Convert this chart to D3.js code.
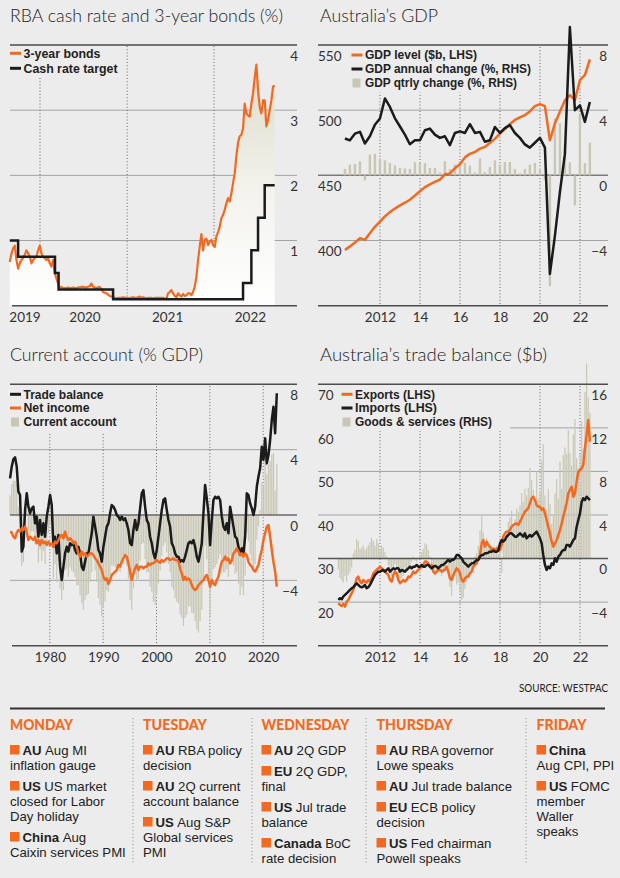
<!DOCTYPE html>
<html><head><meta charset="utf-8">
<script src="https://cdn.jsdelivr.net/npm/d3@7/dist/d3.min.js"></script>
<style>body{margin:0;background:#ececec}svg{display:block}</style>
</head><body>
<svg id="c" width="620" height="878"></svg>
<script>
// ---------------- DATA ----------------
// Panel 1: RBA cash rate and 3-year bonds (weekly samples)
const bondStart = "2019-08-27", bondEnd = "2022-09-13";
const bond3y = [0.67,0.80,0.88,0.92,0.70,0.57,0.65,0.70,0.73,0.78,
0.85,0.80,0.75,0.65,0.70,0.73,0.75,0.85,0.92,0.80,
0.75,0.73,0.70,0.73,0.65,0.60,0.70,0.50,0.42,0.34,
0.27,0.29,0.27,0.27,0.27,0.28,0.27,0.27,0.28,0.27,
0.27,0.28,0.28,0.29,0.29,0.28,0.28,0.29,0.30,0.34,
0.29,0.28,0.27,0.28,0.29,0.25,0.21,0.20,0.19,0.17,
0.15,0.14,0.13,0.12,0.11,0.12,0.12,0.12,0.13,0.12,
0.12,0.11,0.12,0.12,0.13,0.12,0.12,0.13,0.14,0.12,
0.13,0.12,0.11,0.12,0.12,0.12,0.11,0.12,0.12,0.12,
0.12,0.12,0.12,0.11,0.10,0.19,0.21,0.24,0.19,0.15,
0.13,0.19,0.16,0.14,0.18,0.15,0.16,0.19,0.19,0.16,
0.21,0.29,0.44,0.70,0.90,1.10,0.85,1.01,1.03,0.93,
0.98,1.01,0.93,0.90,1.06,1.13,1.21,1.34,1.39,1.47,
1.57,1.65,1.60,1.72,1.88,2.03,2.30,2.50,2.60,2.62,
2.72,3.10,2.95,2.92,2.90,3.10,3.26,3.50,3.70,3.31,
3.05,2.95,3.15,3.15,2.75,2.85,3.00,3.15,3.36,3.38];
const cashDates = ["2019-08-27","2019-10-01","2020-03-04","2020-03-19","2020-11-03","2022-05-03","2022-06-07","2022-07-05","2022-08-02","2022-09-13"];
const cashRate  = [1.00,0.75,0.50,0.25,0.10,0.35,0.85,1.35,1.85,1.85];
const p1Ticks = [1,2,3,4];
const p1YearLabels = ["2019","2020","2021","2022"];
const p1YearLabelDates = ["2019-10-28","2020-07-06","2021-06-18","2022-06-01"];
const p1GridYears = ["2020-01-01","2021-01-01","2022-01-01"];

// Panel 2: Australia's GDP (quarterly, Q1 2010 - Q2 2022)
const gdpFirstQuarter = "2010-03-31";
const gdpLevel = [392.8,395.5,398.5,401.8,400.5,405.5,410.5,414.5,418.5,421.8,
424.5,427,429,431.3,434.5,437.8,441.0,443,445,446.7,
450.8,451.3,455.5,458.5,463.8,466.5,467.9,470.5,471.8,474.8,
478,482.1,485.5,489.2,492.5,494.5,496.2,499,503.1,504.6,
503.1,476.9,489.8,499,507.5,511.5,507.7,523.1,526.9,539.0];
const gdpAnnual = [2.26,2.15,2.56,2.67,1.95,2.4,3.1,3.49,4.72,4.2,
3.5,3.0,2.5,1.91,2.15,2.15,2.77,2.87,2.5,2.3,
2.4,1.85,2.6,2.7,2.6,3.14,2.6,2.67,2.06,2.15,
2.97,2.6,2.9,3.08,2.6,2.3,1.9,1.7,2.0,2.3,
1.7,-6.05,-3.7,-1.0,1.3,9.1,4.0,4.3,3.28,4.5];
const gdpQtr = [0.39,0.66,0.70,0.86,-0.31,1.27,1.33,1.03,0.92,0.76,
0.6,0.45,0.43,0.39,0.8,0.76,0.76,0.45,0.45,0.18,
0.86,0.39,0.66,0.86,0.76,0.6,0.18,1.03,0.2,0.51,
0.92,0.66,0.82,0.82,0.39,0.14,0.39,0.66,0.76,0.35,
-0.3,-6.8,3.5,3.2,1.9,0.8,-1.85,3.8,0.76,2.0];
const gdpLhsTicks = [550,500,450,400];
const gdpRhsTicks = [8,4,0,-4];

// Panel 3: Current account (% GDP), evenly spaced samples 1972.55 - 2022.55
const caStartYear = 1972.55, caEndYear = 2022.55;
const tradeBal = [2.24,2.96,3.41,3.53,2.96,1.43,1.22,-2.24,-1.94,0.31,
1.33,0.51,0.10,0.41,0.51,-0.51,-0.10,-1.33,-0.31,-1.22,
-0.51,-1.33,-0.10,0.51,1.22,0.61,-1.94,-1.33,-2.35,-1.22,
-3.16,-3.98,-3.16,-2.35,-1.94,-2.24,-1.73,-1.84,-1.73,-2.14,
-2.35,-1.94,-2.35,-3.16,-3.37,-2.86,-2.35,-2.35,-1.73,-1.12,
-0.10,-0.71,-1.33,-2.14,-2.35,-2.86,-1.94,-1.33,-0.71,-0.51,
0.10,0.61,0.51,0.31,0.0,-0.10,-0.31,-0.10,-0.31,-0.20,
-0.51,-0.92,-1.73,-1.84,-0.92,-0.31,-0.92,-0.51,0.41,1.33,
1.53,0.51,-0.31,-0.51,-1.33,-1.73,-2.35,-2.65,-2.14,-1.33,
-0.51,0.31,0.92,1.02,0.31,-0.31,-0.71,-1.73,-1.94,-2.35,
-2.55,-2.55,-2.86,-2.76,-2.86,-2.55,-2.14,-1.73,-1.63,-1.73,
-1.53,-1.94,-2.55,-2.86,-2.35,-1.73,0.10,1.84,1.02,0.10,
-1.84,-0.31,0.92,1.12,1.02,1.12,0.92,-0.10,-0.71,-0.92,
-0.51,-1.12,0.51,-0.10,-0.71,-1.33,-1.43,-1.94,-2.45,-2.04,
-2.35,-1.33,1.33,1.22,0.71,0.41,0.0,0.51,1.73,2.35,
2.86,4.18,3.37,4.69,3.16,3.67,4.59,5.82,6.63,5.0,
7.45];
const netIncome = [-1.02,-1.08,-1.33,-1.43,-1.08,-0.92,-1.02,-0.82,-0.92,-0.71,
-1.02,-1.53,-1.33,-1.43,-1.53,-1.33,-1.73,-1.53,-1.84,-1.53,
-1.73,-1.63,-1.84,-1.63,-1.84,-1.73,-1.94,-1.63,-1.73,-1.53,
-1.33,-1.22,-1.43,-1.02,-1.33,-1.53,-1.43,-1.53,-1.73,-1.63,
-1.94,-2.35,-2.55,-2.24,-2.45,-2.35,-2.55,-2.45,-2.35,-2.35,
-2.45,-2.65,-2.76,-2.96,-3.16,-3.37,-3.78,-3.98,-3.88,-4.22,
-3.98,-3.67,-3.57,-3.47,-3.37,-3.06,-3.16,-2.86,-2.65,-2.45,
-2.55,-2.96,-3.47,-3.98,-3.57,-3.27,-3.06,-3.37,-3.16,-3.16,
-3.27,-3.16,-3.16,-2.96,-3.06,-2.96,-2.96,-2.86,-2.76,-2.86,
-2.92,-2.76,-2.86,-2.76,-2.65,-2.65,-2.76,-2.71,-2.65,-2.76,
-2.76,-2.86,-3.27,-3.57,-3.98,-3.78,-3.98,-3.88,-3.98,-4.29,
-4.49,-4.59,-4.49,-4.29,-4.18,-4.08,-3.98,-3.78,-3.67,-3.98,
-4.39,-3.98,-4.18,-4.29,-3.98,-3.78,-3.27,-2.86,-2.76,-2.55,
-2.76,-2.65,-2.96,-2.76,-2.35,-2.24,-2.04,-2.24,-2.45,-2.35,
-2.55,-2.35,-2.45,-2.86,-3.06,-3.16,-3.37,-3.47,-3.27,-3.06,
-2.55,-2.14,-1.53,-1.12,-0.71,-0.61,-1.33,-2.14,-2.86,-3.47,
-4.39];
const curAcct = [1.2,1.9,2.1,2.1,1.9,0.5,0.2,-3.1,-2.9,-0.4,
0.3,-1.0,-1.2,-1.0,-1.0,-1.8,-1.8,-2.9,-2.1,-2.8,
-2.2,-3.0,-1.9,-1.1,-0.6,-1.1,-3.9,-3.0,-4.1,-2.8,
-4.5,-5.2,-4.6,-3.4,-3.3,-3.8,-3.2,-3.4,-3.5,-3.8,
-4.3,-4.3,-4.9,-5.4,-5.8,-5.2,-4.9,-4.8,-4.1,-3.5,
-2.6,-3.4,-4.1,-5.1,-5.5,-6.2,-5.7,-5.3,-4.6,-4.7,
-3.9,-3.1,-3.1,-3.2,-3.4,-3.2,-3.5,-3.0,-3.0,-2.7,
-3.1,-3.9,-5.2,-5.8,-4.5,-3.6,-4.0,-3.9,-2.8,-1.8,
-1.7,-2.7,-3.5,-3.5,-4.4,-4.7,-5.3,-5.5,-4.9,-4.2,
-3.4,-2.5,-1.9,-1.7,-2.3,-3.0,-3.5,-4.4,-4.6,-5.1,
-5.3,-5.4,-6.1,-6.3,-6.8,-6.3,-6.1,-5.6,-5.6,-6.0,
-6.0,-6.5,-7.0,-7.2,-6.5,-5.8,-3.9,-1.9,-2.7,-3.9,
-6.2,-4.3,-3.3,-3.2,-3.0,-2.7,-2.4,-3.0,-3.5,-3.5,
-3.3,-3.8,-2.5,-2.9,-3.1,-3.6,-3.5,-4.2,-4.9,-4.4,
-4.9,-3.7,-1.1,-1.6,-2.4,-2.8,-3.4,-3.0,-1.5,-0.7,
0.3,2.0,1.8,3.6,2.5,3.1,3.3,3.7,3.8,1.5,
3.1];
const caTicks = [8,4,0,-4];
const caYears = [1980,1990,2000,2010,2020];

// Panel 4: Australia's trade balance ($b), monthly from Dec 2009
const tradeFirstMonth = "2009-12-01";
const exportsB = [19.74,19.36,19.13,19.59,18.98,20.12,20.50,21.27,22.03,22.80,
23.94,25.47,25.86,24.71,24.33,25.09,24.71,24.48,25.09,24.71,
25.47,26.62,27.00,27.39,27.77,28.15,27.77,27.39,27.00,26.62,
26.24,25.09,24.71,26.24,27.00,26.62,25.09,24.33,24.71,25.09,
24.71,25.09,25.86,25.70,26.24,27.00,26.62,27.00,27.39,27.77,
28.15,28.53,29.30,29.30,28.91,28.15,28.53,27.00,26.62,27.00,
27.39,27.39,27.00,27.23,27.39,28.15,27.00,25.47,25.09,26.24,
27.00,27.77,27.39,26.62,25.09,24.71,25.47,25.86,25.86,26.62,
27.00,28.15,28.53,28.91,30.06,30.83,33.50,34.27,32.74,33.88,
33.12,32.74,31.97,32.35,31.97,32.35,31.97,31.97,33.12,35.03,
35.80,36.18,36.18,36.56,37.32,37.71,37.94,38.09,37.71,38.47,
39.24,40.00,40.76,41.15,41.53,42.68,43.82,44.20,43.44,42.29,
41.91,41.91,41.15,41.53,40.38,38.85,37.32,35.80,33.88,32.74,
33.50,34.27,35.41,36.56,38.09,39.62,41.15,42.68,44.97,45.73,
46.50,44.20,44.97,47.65,49.94,50.33,50.71,51.47,55.29,58.35,
61.79,56.82];
const importsB = [20.50,20.89,20.66,21.27,21.65,22.03,22.42,22.80,23.18,23.41,
23.94,24.33,23.94,23.56,23.41,23.56,23.94,23.18,23.41,23.94,
24.71,25.47,26.24,26.62,27.00,27.00,27.23,27.39,27.00,27.39,
27.77,27.00,27.39,27.77,27.54,27.77,27.77,27.00,27.39,27.23,
27.00,27.39,27.77,28.15,27.77,28.15,28.15,28.53,28.15,28.15,
28.53,28.15,28.15,28.53,28.53,28.15,27.77,28.15,28.30,28.15,
27.77,28.15,28.53,28.53,28.91,29.30,29.68,29.30,29.68,29.68,
30.06,30.83,30.83,30.44,30.06,29.30,28.91,28.53,28.15,28.53,
28.91,28.91,29.30,29.68,29.68,30.44,30.83,30.83,31.21,31.21,
31.36,31.59,31.59,31.82,31.59,31.59,31.82,33.50,34.27,33.88,
34.27,35.03,35.41,35.80,35.80,35.41,35.03,35.03,35.41,35.80,
35.41,35.03,35.80,34.65,35.03,35.41,35.03,35.41,35.80,36.18,
35.41,34.65,33.50,30.83,28.53,27.39,28.15,27.77,28.91,28.53,
30.06,29.30,30.44,30.83,31.59,31.97,31.97,33.12,33.12,32.74,
33.50,34.27,34.65,37.32,38.85,40.38,43.06,43.82,43.44,44.20,
43.82,43.44];
const goodsServ = [-1.0,-1.8,-2.0,-2.2,-1.6,-2.1,-1.5,-1.2,-0.8,0.5,
0.8,1.8,1.6,0.9,1.0,1.2,0.8,1.0,1.2,1.5,
1.9,1.6,1.2,1.8,1.4,0.9,1.2,1.0,0.6,0.2,
-0.6,-1.4,-1.6,-0.9,-0.5,-0.9,-1.8,-2.1,-1.8,-1.6,
-1.2,-1.0,-0.7,-0.6,-0.3,0.2,-0.2,-0.3,0.0,0.3,
0.6,0.9,1.4,1.3,0.8,0.2,-0.5,-1.2,-1.6,-1.2,
-0.8,-0.9,-1.6,-1.3,-1.0,-0.5,-1.4,-2.6,-3.4,-2.0,
-1.6,-2.4,-2.2,-3.2,-3.8,-3.6,-2.8,-2.2,-1.8,-1.5,
-1.0,-0.4,0.2,0.5,1.2,2.6,4.0,2.4,1.2,1.9,
1.1,0.9,1.2,1.0,0.7,1.2,0.4,0.8,-1.3,1.5,
1.8,2.6,3.4,3.8,4.4,3.2,3.6,4.6,4.3,4.9,
6.0,5.2,6.4,5.8,6.5,8.3,7.2,6.3,5.0,8.0,
5.5,6.0,9.0,10.5,5.8,4.5,6.4,5.0,3.2,3.9,
6.0,7.3,5.5,8.9,6.4,9.5,10.2,9.6,11.8,9.7,
8.5,11.4,12.8,9.2,8.3,9.6,12.6,10.1,15.3,17.9,
14.8,13.4];
const tradeLhsTicks = [70,60,50,40,30,20];
const tradeRhsTicks = [16,12,8,4,0,-4];
const shortYearTicks = ["2012","14","16","18","20","22"];
const shortYearDates = ["2012-01-01","2014-01-01","2016-01-01","2018-01-01","2020-01-01","2022-01-01"];

// Week-ahead calendar
const days = ["MONDAY","TUESDAY","WEDNESDAY","THURSDAY","FRIDAY"];
const dayItems = [
  [{code:"AU",lines:["Aug MI","inflation gauge"]},
   {code:"US",lines:["US market","closed for Labor","Day holiday"]},
   {code:"China",lines:["Aug","Caixin services PMI"]}],
  [{code:"AU",lines:["RBA policy","decision"]},
   {code:"AU",lines:["2Q current","account balance"]},
   {code:"US",lines:["Aug S&P","Global services","PMI"]}],
  [{code:"AU",lines:["2Q GDP"]},
   {code:"EU",lines:["2Q GDP,","final"]},
   {code:"US",lines:["Jul trade","balance"]},
   {code:"Canada",lines:["BoC","rate decision"]}],
  [{code:"AU",lines:["RBA governor","Lowe speaks"]},
   {code:"AU",lines:["Jul trade balance"]},
   {code:"EU",lines:["ECB policy","decision"]},
   {code:"US",lines:["Fed chairman","Powell speaks"]}],
  [{code:"China",lines:["","Aug CPI, PPI"]},
   {code:"US",lines:["FOMC","member","Waller","speaks"]}]
];

// ---------------- STYLE ----------------
const BG="#ececec", OR="#f26a21", BK="#1b1b1b", BAR="#c9c7b3", GRID="#a3a3a3", DARK="#4d4d4d", TXT="#222";
const FONT="Lato, 'Open Sans', sans-serif";
const TFONT="'Liberation Sans', Arial, sans-serif";
const svg = d3.select("#c");
svg.append("rect").attr("width",620).attr("height",878).attr("fill",BG);
const parse = d3.timeParse("%Y-%m-%d");

function hline(y,x0,x1,color,w){svg.append("line").attr("x1",x0).attr("x2",x1).attr("y1",y).attr("y2",y).attr("stroke",color).attr("stroke-width",w);}
function vdots(x,y0,y1){svg.append("line").attr("x1",x).attr("x2",x).attr("y1",y0).attr("y2",y1).attr("stroke","#666").attr("stroke-width",1).attr("stroke-dasharray","1,2.2");}
function title(x,y,t,len){svg.append("text").attr("x",x).attr("y",y).text(t).attr("font-family",FONT).attr("font-size",18).attr("font-weight",300).attr("fill",TXT).attr("textLength",len).attr("lengthAdjust","spacingAndGlyphs");}
function bgBox(x,y,w,h){svg.append("rect").attr("x",x).attr("y",y).attr("width",w).attr("height",h).attr("fill",BG);}
function legend(x,rows){
  rows.forEach(r=>{
    if(r.type==="line") svg.append("line").attr("x1",x).attr("x2",x+11).attr("y1",r.y).attr("y2",r.y).attr("stroke",r.color).attr("stroke-width",3);
    else svg.append("rect").attr("x",x+1).attr("y",r.y-4.5).attr("width",8).attr("height",9).attr("fill",r.color);
    svg.append("text").attr("x",x+13.5).attr("y",r.y+4.3).text(r.text).attr("font-family",TFONT).attr("font-weight",700).attr("font-size",12).attr("fill",TXT).attr("textLength",r.w).attr("lengthAdjust","spacingAndGlyphs");
  });
}
function yLabels(scale,vals,x,side){
  const ax=(side==="end"?d3.axisLeft(scale):d3.axisRight(scale)).tickValues(vals).tickSize(0).tickPadding(0).tickFormat(d3.format("d"));
  const g=svg.append("g").attr("transform",`translate(${x},0)`).call(ax);
  g.select(".domain").remove(); g.selectAll(".tick line").remove();
  g.attr("font-family",FONT).attr("font-size",13.5);
  g.selectAll("text").attr("y",11).attr("fill","#333");
}
function xLabels(scale,vals,labels,y){
  const ax=d3.axisBottom(scale).tickValues(vals).tickSize(0).tickPadding(0).tickFormat((d,i)=>labels[i]);
  const g=svg.append("g").attr("transform",`translate(0,${y})`).call(ax);
  g.select(".domain").remove(); g.selectAll(".tick line").remove();
  g.attr("font-family",FONT).attr("font-size",13.5);
  g.selectAll("text").attr("fill","#333");
}

// ---------------- PANEL 1 ----------------
{
  const x=d3.scaleTime().domain([parse("2020-01-01"),parse("2022-01-01")]).range([40,214]);
  const y=d3.scaleLinear().domain([0,4]).range([305.7,45]);
  const t0=parse(bondStart).getTime(), t1=parse(bondEnd).getTime();
  const bonds=bond3y.map((v,i)=>({d:new Date(t0+(t1-t0)*i/(bond3y.length-1)),v}));
  const cash=cashRate.map((v,i)=>({d:parse(cashDates[i]),v}));
  title(10,22,"RBA cash rate and 3-year bonds (%)",273);
  [1,2,3].forEach(v=>hline(y(v),10,297,GRID,1));
  p1GridYears.forEach(s=>vdots(x(parse(s)),46,305));
  bgBox(10,46,112,31);
  const defs=svg.append("defs");
  const lg=defs.append("linearGradient").attr("id","bondGrad").attr("gradientUnits","userSpaceOnUse").attr("x1",0).attr("x2",0).attr("y1",y(4)).attr("y2",y(0));
  lg.append("stop").attr("offset",0).attr("stop-color","#d9d7c4");
  lg.append("stop").attr("offset",0.55).attr("stop-color","#f3f2ec");
  lg.append("stop").attr("offset",1).attr("stop-color","#ffffff");
  svg.append("path").datum(bonds).attr("fill","url(#bondGrad)").attr("d",d3.area().x(d=>x(d.d)).y0(y(0)).y1(d=>y(d.v)));
  hline(y(4),10,297,DARK,1.5);
  hline(y(0),12,297,DARK,1.5);
  svg.append("path").datum(bonds).attr("fill","none").attr("stroke",OR).attr("stroke-width",2.2).attr("stroke-linejoin","round").attr("d",d3.line().x(d=>x(d.d)).y(d=>y(d.v)));
  svg.append("path").datum(cash).attr("fill","none").attr("stroke",BK).attr("stroke-width",2.5).attr("d",d3.line().curve(d3.curveStepAfter).x(d=>x(d.d)).y(d=>y(d.v)));
  legend(10,[{type:"line",color:OR,y:53.3,text:"3-year bonds",w:77},{type:"line",color:BK,y:68.3,text:"Cash rate target",w:94}]);
  yLabels(y,p1Ticks,298,"end");
  xLabels(x,p1YearLabelDates.map(parse),p1YearLabels,312);
}

// shared time scale for panels 2 and 4
const xT=d3.scaleTime().domain([parse("2012-01-01"),parse("2022-01-01")]).range([380,580]);

// ---------------- PANEL 2 ----------------
{
  const yL=d3.scaleLinear().domain([350,550]).range([305.7,45]);
  const yR=d3.scaleLinear().domain([-8,8]).range([305.7,45]);
  const q0=parse(gdpFirstQuarter);
  const qd=i=>new Date(q0.getFullYear(),q0.getMonth()+1+3*i,0);
  title(320,22,"Australia’s GDP",118);
  [500,400].forEach(v=>hline(yL(v),318,608,GRID,1));
  shortYearDates.forEach(s=>vdots(xT(parse(s)),47,305));
  bgBox(318,46.5,218,46);
  hline(yL(450),318,608,"#7a7a7a",1.5);
  svg.append("g").selectAll("rect").data(gdpQtr).join("rect")
    .attr("x",(d,i)=>xT(qd(i))-1.2).attr("width",2.4)
    .attr("y",d=>Math.min(yR(d),yR(0))).attr("height",d=>Math.abs(yR(d)-yR(0))).attr("fill",BAR);
  hline(yL(550),318,608,DARK,1.5);
  hline(305.7,318,608,DARK,1.5);
  svg.append("path").datum(gdpLevel).attr("fill","none").attr("stroke",OR).attr("stroke-width",2.5).attr("stroke-linejoin","round").attr("d",d3.line().x((d,i)=>xT(qd(i))).y(d=>yL(d)));
  svg.append("path").datum(gdpAnnual).attr("fill","none").attr("stroke",BK).attr("stroke-width",2.5).attr("stroke-linejoin","round").attr("d",d3.line().x((d,i)=>xT(qd(i))).y(d=>yR(d)));
  legend(351.5,[{type:"line",color:OR,y:55,text:"GDP level ($b, LHS)",w:112},{type:"line",color:BK,y:69,text:"GDP annual change (%, RHS)",w:166},{type:"box",color:BAR,y:83,text:"GDP qtrly change (%, RHS)",w:152}]);
  yLabels(yL,gdpLhsTicks,318,"start");
  yLabels(yR,gdpRhsTicks,607,"end");
  xLabels(xT,shortYearDates.map(parse),shortYearTicks,312);
}

// ---------------- PANEL 3 ----------------
{
  const x=d3.scaleLinear().domain([1980,2020]).range([49.8,263.2]);
  const y=d3.scaleLinear().domain([-8,8]).range([645.7,384.3]);
  const ty=i=>caStartYear+(caEndYear-caStartYear)*i/(tradeBal.length-1);
  title(10,361,"Current account (% GDP)",193);
  [4,-4].forEach(v=>hline(y(v),10,297,GRID,1));
  caYears.forEach(v=>vdots(x(v),386,645));
  bgBox(10,386,118,47);
  svg.append("g").selectAll("rect").data(curAcct).join("rect")
    .attr("x",(d,i)=>x(ty(i))-0.6).attr("width",1.2)
    .attr("y",d=>Math.min(y(d),y(0))).attr("height",d=>Math.abs(y(d)-y(0))).attr("fill",BAR);
  hline(y(0),10,297,"#6a6a6a",1.5);
  hline(y(8),10,297,DARK,1.5);
  hline(645.7,12,297,DARK,1.5);
  svg.append("path").datum(tradeBal).attr("fill","none").attr("stroke",BK).attr("stroke-width",2.5).attr("stroke-linejoin","round").attr("d",d3.line().x((d,i)=>x(ty(i))).y(d=>y(d)));
  svg.append("path").datum(netIncome).attr("fill","none").attr("stroke",OR).attr("stroke-width",2.5).attr("stroke-linejoin","round").attr("d",d3.line().x((d,i)=>x(ty(i))).y(d=>y(d)));
  legend(10,[{type:"line",color:BK,y:394.3,text:"Trade balance",w:80},{type:"line",color:OR,y:408,text:"Net income",w:66},{type:"box",color:BAR,y:422,text:"Current account",w:93}]);
  yLabels(y,caTicks,298,"end");
  const ax=d3.axisBottom(x).tickValues(caYears).tickSize(0).tickPadding(0).tickFormat(d3.format("d"));
  const g=svg.append("g").attr("transform","translate(0,652)").call(ax);
  g.select(".domain").remove(); g.selectAll(".tick line").remove();
  g.attr("font-family",FONT).attr("font-size",13.5); g.selectAll("text").attr("fill","#333");
}

// ---------------- PANEL 4 ----------------
{
  const yL=d3.scaleLinear().domain([10,70]).range([645.7,384.3]);
  const yR=d3.scaleLinear().domain([-8,16]).range([645.7,384.3]);
  const m0=parse(tradeFirstMonth);
  const md=i=>d3.timeMonth.offset(m0,i);
  title(320,361,"Australia’s trade balance ($b)",227);
  [60,50,40,20].forEach(v=>hline(yL(v),318,608,GRID,1));
  shortYearDates.forEach(s=>vdots(xT(parse(s)),386,645));
  bgBox(318,386,192,45);
  svg.append("g").selectAll("rect").data(goodsServ).join("rect")
    .attr("x",(d,i)=>xT(md(i))-0.6).attr("width",1.2)
    .attr("y",d=>Math.min(yR(d),yR(0))).attr("height",d=>Math.abs(yR(d)-yR(0))).attr("fill",BAR);
  hline(yL(30),318,608,"#555",1.5);
  hline(yL(70),318,608,DARK,1.5);
  hline(645.7,318,608,DARK,1.5);
  svg.append("path").datum(exportsB).attr("fill","none").attr("stroke",OR).attr("stroke-width",2.5).attr("stroke-linejoin","round").attr("d",d3.line().x((d,i)=>xT(md(i))).y(d=>yL(d)));
  svg.append("path").datum(importsB).attr("fill","none").attr("stroke",BK).attr("stroke-width",2.5).attr("stroke-linejoin","round").attr("d",d3.line().x((d,i)=>xT(md(i))).y(d=>yL(d)));
  legend(341.5,[{type:"line",color:OR,y:394.3,text:"Exports (LHS)",w:80},{type:"line",color:BK,y:408,text:"Imports (LHS)",w:82},{type:"box",color:BAR,y:422,text:"Goods & services (RHS)",w:137}]);
  yLabels(yL,tradeLhsTicks,318,"start");
  yLabels(yR,tradeRhsTicks,607,"end");
  xLabels(xT,shortYearDates.map(parse),shortYearTicks,652);
  svg.append("text").attr("x",519).attr("y",692).text("SOURCE: WESTPAC").attr("font-family",FONT).attr("font-size",11).attr("fill","#222").attr("textLength",89).attr("lengthAdjust","spacingAndGlyphs");
}

// ---------------- CALENDAR ----------------
{
  hline(708.5,10,605,"#333",2);
  const colX=[10,143,261.5,376.5,536.5];
  const headW=[63,64,88,76,50];
  const sepX=[133,252,366,526];
  const FS=13.2;
  sepX.forEach(x=>svg.append("line").attr("x1",x).attr("x2",x).attr("y1",718).attr("y2",864).attr("stroke","#888").attr("stroke-width",1).attr("stroke-dasharray","1,2.5"));
  days.forEach((d,k)=>{
    svg.append("text").attr("x",colX[k]).attr("y",729.5).text(d).attr("font-family",FONT).attr("font-weight",900).attr("font-size",15.5).attr("fill",OR).attr("textLength",headW[k]).attr("lengthAdjust","spacingAndGlyphs");
    let yb=754.5;
    dayItems[k].forEach(it=>{
      svg.append("rect").attr("x",colX[k]).attr("y",yb-9.5).attr("width",9.5).attr("height",9.5).attr("fill",OR);
      it.lines.forEach((ln,j)=>{
        if(j===0){
          const c=svg.append("text").attr("x",colX[k]+12.5).attr("y",yb).attr("font-family",TFONT).attr("font-size",FS).attr("font-weight",700).attr("fill",TXT).text(it.code);
          const w=c.node().getComputedTextLength();
          if(ln) svg.append("text").attr("x",colX[k]+12.5+w+3.5).attr("y",yb).attr("font-family",TFONT).attr("font-size",FS).attr("fill",TXT).text(ln);
        } else {
          svg.append("text").attr("x",colX[k]).attr("y",yb).attr("font-family",TFONT).attr("font-size",FS).attr("fill",TXT).text(ln);
        }
        yb+=15;
      });
      yb+=6;
    });
  });
}
</script></body></html>
